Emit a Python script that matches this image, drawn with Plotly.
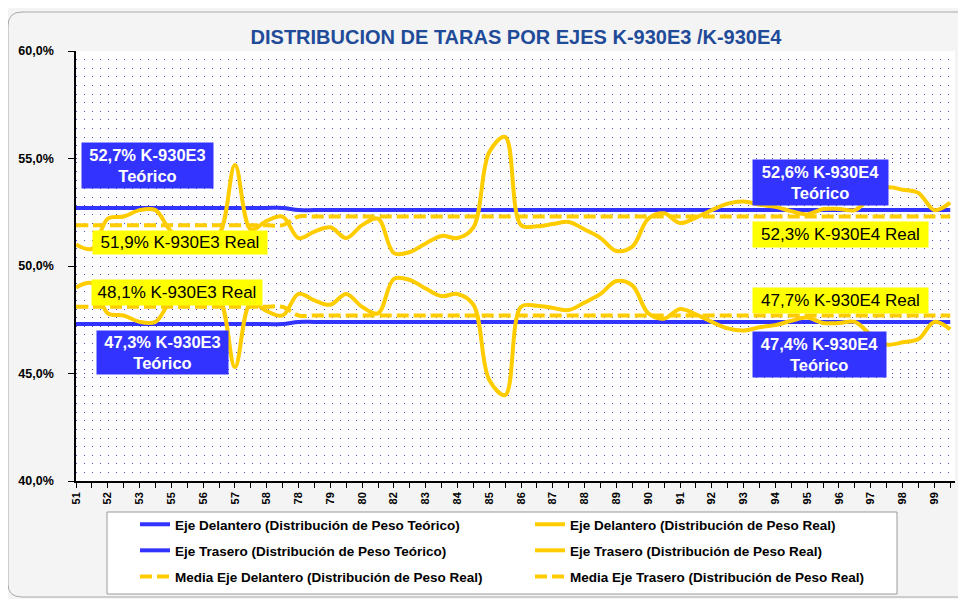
import plotly.graph_objects as go

# ---------------- data ----------------
tick_labels = ["51", "52", "53", "55", "56", "57", "58", "78", "79", "80", "82", "83", "84", "85",
               "86", "87", "88", "89", "90", "91", "92", "93", "94", "95", "96", "97", "98", "99"]

models = ["K-930E3", "K-930E4"]
model_counts = [14, 42]

front_real = [51.0, 50.8, 52.2, 52.3, 52.6, 52.6, 51.6, 51.3, 51.3, 51.5,
              54.7, 51.7, 52.1, 52.3, 51.3, 51.6, 51.8, 51.3, 51.9, 52.2,
              50.6, 50.65, 51.05, 51.4, 51.3, 51.8, 55.3, 56.0, 51.9, 51.85,
              51.95, 52.05, 51.7, 51.3, 50.7, 50.9, 52.2, 52.45, 52.0, 52.25,
              52.6, 52.9, 53.0, 52.85, 52.75, 52.55, 52.4, 52.65, 52.65, 52.6,
              53.2, 53.65, 53.55, 53.4, 52.6, 52.95]
rear_real = [49.0, 49.2, 47.8, 47.7, 47.4, 47.4, 48.4, 48.7, 48.7, 48.5,
             45.3, 48.3, 47.9, 47.7, 48.7, 48.4, 48.2, 48.7, 48.1, 47.8,
             49.4, 49.35, 48.95, 48.6, 48.7, 48.2, 44.7, 44.0, 48.1, 48.15,
             48.05, 47.95, 48.3, 48.7, 49.3, 49.1, 47.8, 47.55, 48.0, 47.75,
             47.4, 47.1, 47.0, 47.15, 47.25, 47.45, 47.6, 47.35, 47.35, 47.4,
             46.8, 46.35, 46.45, 46.6, 47.4, 47.05]

front_theo = [52.7, 52.6]
rear_theo = [47.3, 47.4]
front_mean = [51.9, 52.3]
rear_mean = [48.1, 47.7]

# ---------------- expand per point ----------------
def per_point(vals):
    out = []
    for v, n in zip(vals, model_counts):
        out += [v] * n
    return out

x = list(range(len(front_real)))
ticktext = [f"<b>{tick_labels[i // 2]}</b>" if i % 2 == 0 else "" for i in x]

BLUE = "#3333FF"
YEL = "#FFCC00"
FONT = "Liberation Sans, Arial"

def fmt(v):
    return f"{v:.1f}".replace(".", ",") + "%"

fig = go.Figure()

traces = [
    ("Eje Delantero (Distribución de Peso Teórico)", per_point(front_theo), BLUE, "solid", "legend", 1),
    ("Eje Trasero (Distribución de Peso Teórico)", per_point(rear_theo), BLUE, "solid", "legend", 2),
    ("Media Eje Delantero (Distribución de Peso Real)", per_point(front_mean), YEL, "12px,5px", "legend", 3),
    ("Media Eje Trasero (Distribución de Peso Real)", per_point(rear_mean), YEL, "12px,5px", "legend2", 3),
    ("Eje Delantero (Distribución de Peso Real)", front_real, YEL, "solid", "legend2", 1),
    ("Eje Trasero (Distribución de Peso Real)", rear_real, YEL, "solid", "legend2", 2),
]
for name, y, col, dash, leg, rank in traces:
    fig.add_trace(go.Scatter(
        x=x, y=y, name=f"<b>{name}</b>", mode="lines",
        line=dict(color=col, width=4, dash=dash, shape="spline", smoothing=1),
        legend=leg, legendrank=rank, legendgroup=name,
    ))

# ---------------- geometry (page pixels; page body has an 8px offset) ----------------
OFF = 8
W, H = 966 - OFF, 599 - OFF
PL, PR, PT, PB = 76, 955, 51, 481          # plot area in page pixels
L, R, T, B = PL - OFF, W - (PR - OFF), PT - OFF, H - (PB - OFF)

def px(xp):
    return (xp - PL) / (PR - PL)

def py(yp):
    return (PB - yp) / (PB - PT)

shapes = []
# legend box
shapes.append(dict(type="rect", xref="paper", yref="paper",
                   x0=px(107), x1=px(897), y0=py(594), y1=py(512),
                   line=dict(color="#9a9a9a", width=1), fillcolor="white", layer="below"))
# outer rounded border
path = (f"M{px(990)},{py(12)} L{px(22)},{py(12)} Q{px(8)},{py(12)} {px(8)},{py(26)} "
        f"L{px(8)},{py(584)} Q{px(8)},{py(597)} {px(22)},{py(597)} L{px(990)},{py(597)}")
shapes.append(dict(type="path", xref="paper", yref="paper", path=path,
                   line=dict(color="#a8a8a8", width=1), layer="below"))

# ---------------- annotations ----------------
XS = (PR - PL) / 55.3
YS = (PB - PT) / 20.0

def ann(text, xc, yc, w, h, bg, fc, bold, size):
    t = f"<b>{text}</b>" if bold else text
    return dict(text=t, x=(xc - PL) / XS, y=60 - (yc - PT) / YS, xref="x", yref="y",
                showarrow=False, bgcolor=bg, width=w, height=h, borderpad=0,
                font=dict(color=fc, size=size, family=FONT),
                align="center", valign="middle")

annotations = [
    ann(f"{fmt(front_theo[0])} {models[0]}<br>Teórico", 147, 165, 131, 45, BLUE, "white", True, 16.5),
    ann(f"{fmt(front_mean[0])} {models[0]} Real", 180, 242, 174, 23, "#FFFF00", "black", False, 17),
    ann(f"{fmt(rear_mean[0])} {models[0]} Real", 177, 292, 170, 25, "#FFFF00", "black", False, 17),
    ann(f"{fmt(rear_theo[0])} {models[0]}<br>Teórico", 162, 352, 131, 43, BLUE, "white", True, 16.5),
    ann(f"{fmt(front_theo[1])} {models[1]}<br>Teórico", 820, 182, 135, 45, BLUE, "white", True, 16.5),
    ann(f"{fmt(front_mean[1])} {models[1]} Real", 840, 234, 175, 25, "#FFFF00", "black", False, 17),
    ann(f"{fmt(rear_mean[1])} {models[1]} Real", 840, 300, 175, 25, "#FFFF00", "black", False, 17),
    ann(f"{fmt(rear_theo[1])} {models[1]}<br>Teórico", 819, 354, 133, 45, BLUE, "white", True, 16.5),
]

DOT = "rgba(40,40,190,0.85)"
LEGFONT = dict(size=13.5, family=FONT, color="black")

fig.update_layout(
    width=W, height=H,
    margin=dict(l=L, r=R, t=T, b=B, autoexpand=False),
    paper_bgcolor="#f4f4f4",
    plot_bgcolor="white",
    separators=",.",
    font=dict(family=FONT, color="black"),
    title=dict(text="<b>DISTRIBUCION DE TARAS POR EJES K-930E3 /K-930E4</b>",
               x=(516 - OFF) / W, y=1 - (37 - OFF) / H, xanchor="center", yanchor="middle",
               xref="container", yref="container",
               font=dict(size=20, color="#1F4B99", family=FONT)),
    xaxis=dict(range=[0, 55.3], tickmode="array", tickvals=x, ticktext=ticktext,
               tickangle=-90, ticks="outside", ticklen=5, tickcolor="black",
               showline=True, linecolor="black", linewidth=1.5, showgrid=False,
               zeroline=False, tickfont=dict(size=11, family=FONT),
               fixedrange=True),
    yaxis=dict(range=[40, 60], dtick=5, tickformat=".1f", ticksuffix="%",
               ticks="outside", ticklen=6, tickcolor="black",
               showline=True, linecolor="black", linewidth=1.5,
               showgrid=True, gridcolor=DOT, gridwidth=1, griddash="1px,7px",
               minor=dict(dtick=0.4, showgrid=True, gridcolor=DOT, gridwidth=1, griddash="1px,7px"),
               zeroline=False, ticklabelstandoff=12,
               tickprefix="<b>",
               tickfont=dict(size=12.5, family=FONT),
               fixedrange=True),
    legend=dict(x=px(135), xanchor="left", y=py(509), yanchor="top",
                orientation="v", bgcolor="rgba(0,0,0,0)", borderwidth=0,
                tracegroupgap=5.5, traceorder="grouped", font=LEGFONT),
    legend2=dict(x=px(530), xanchor="left", y=py(509), yanchor="top",
                 orientation="v", bgcolor="rgba(0,0,0,0)", borderwidth=0,
                 tracegroupgap=5.5, traceorder="grouped", font=LEGFONT),
    shapes=shapes,
    annotations=annotations,
)

fig.write_html("out.html")
